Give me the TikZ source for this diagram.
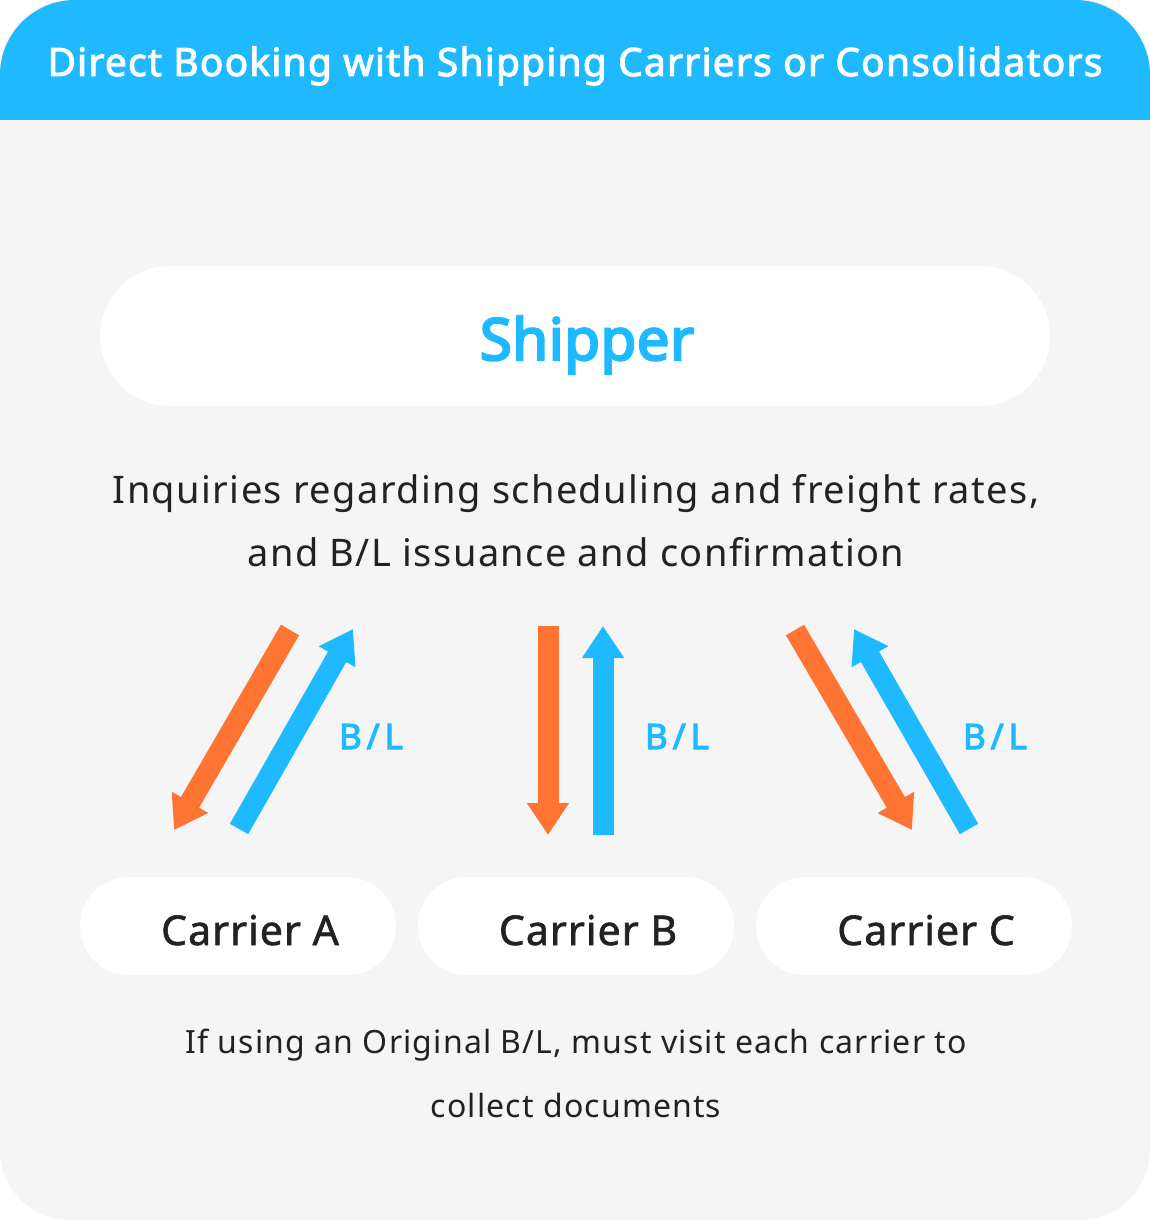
\documentclass[tikz,border=0pt]{standalone}
\usepackage{fontspec}
\setmainfont{Noto Sans}
\usetikzlibrary{arrows.meta}
\definecolor{skyblue}{HTML}{1EB9FF}
\definecolor{orng}{HTML}{FF7433}
\definecolor{bggray}{HTML}{F5F5F5}
\definecolor{ink}{HTML}{222222}
\newfontfamily\hdrfont{Noto Sans}[LetterSpace=3, FakeBold=2.5]
\newfontfamily\shipfont{Noto Sans}[LetterSpace=1, FakeBold=4]
\newfontfamily\blfont{Noto Sans}[LetterSpace=14, FakeBold=3]
\newfontfamily\bodyfont{Noto Sans}[LetterSpace=3.7]
\newfontfamily\footfont{Noto Sans}[LetterSpace=3.6]
\newfontfamily\carfont{Noto Sans}[LetterSpace=2.6, FakeBold=1.5]
\tikzset{
  pill/.style={fill=white, draw=none, rounded corners=#1, inner sep=0pt},
  carpill/.style={pill=49pt, minimum width=316pt, minimum height=98pt},
  cartext/.style={anchor=base, text=ink, inner sep=0pt, font=\carfont\fontsize{41}{48}\selectfont},
  arr/.style={line width=21pt, -{Triangle[width=40pt,length=32pt]}},
  bltext/.style={anchor=base, inner sep=0pt, text=skyblue, font=\blfont\fontsize{35}{42}\selectfont},
  bodytext/.style={anchor=base, inner sep=0pt, text=ink, font=\bodyfont\fontsize{38}{44}\selectfont},
  foottext/.style={anchor=base, inner sep=0pt, text=ink, font=\footfont\fontsize{32}{40}\selectfont},
}
\begin{document}
\begin{tikzpicture}[x=1pt,y=-1pt]
\useasboundingbox (0,0) rectangle (1150,1220);
\fill[white] (0,0) rectangle (1150,1220);
\fill[bggray, rounded corners=70pt] (0,0) rectangle (1150,1220);
\begin{scope}
  \clip (0,0) rectangle (1150,120);
  \fill[skyblue, rounded corners=75pt] (0,0) rectangle (1150,300);
\end{scope}
\node[anchor=base, inner sep=0pt, text=white, font=\hdrfont\fontsize{39}{46}\selectfont] (title) at (575,76) {Direct Booking with Shipping Carriers or Consolidators};

\node[pill=70pt, minimum width=950pt, minimum height=140pt] (shipper) at (575,336) {};
\node[anchor=base, inner sep=0pt, text=skyblue, font=\shipfont\fontsize{58}{66}\selectfont] (shippertxt) at (587,360) {Shipper};

\node[bodytext] (inq1) at (576,503) {Inquiries regarding scheduling and freight rates,};
\node[bodytext] (inq2) at (576,566) {and B/L issuance and confirmation};

\node[carpill] (ca) at (238,926) {};
\node[carpill] (cb) at (576,926) {};
\node[carpill] (cc) at (914,926) {};
\node[cartext] (cat) at (250,945) {Carrier A};
\node[cartext] (cbt) at (588,945) {Carrier B};
\node[cartext] (cct) at (926,945) {Carrier C};

\coordinate (a1s) at (290,630); \coordinate (a1e) at (174,830);
\coordinate (a2s) at (239,829); \coordinate (a2e) at (353,629);
\coordinate (b1s) at (548,626); \coordinate (b1e) at (548,835);
\coordinate (b2s) at (603,835); \coordinate (b2e) at (603,626);
\coordinate (c1s) at (795,630); \coordinate (c1e) at (912,830);
\coordinate (c2s) at (969,829); \coordinate (c2e) at (854,629);

\draw[arr, orng] (a1s) -- (a1e);
\draw[arr, skyblue] (a2s) -- (a2e);
\draw[arr, orng] (b1s) -- (b1e);
\draw[arr, skyblue] (b2s) -- (b2e);
\draw[arr, orng] (c1s) -- (c1e);
\draw[arr, skyblue] (c2s) -- (c2e);

\node[bltext] (bla) at (371,749) {B/L};
\node[bltext] (blb) at (677,749) {B/L};
\node[bltext] (blc) at (995,749) {B/L};

\node[foottext] (foot1) at (576,1053) {If using an Original B/L, must visit each carrier to};
\node[foottext] (foot2) at (576,1117) {collect documents};
\end{tikzpicture}
\end{document}
